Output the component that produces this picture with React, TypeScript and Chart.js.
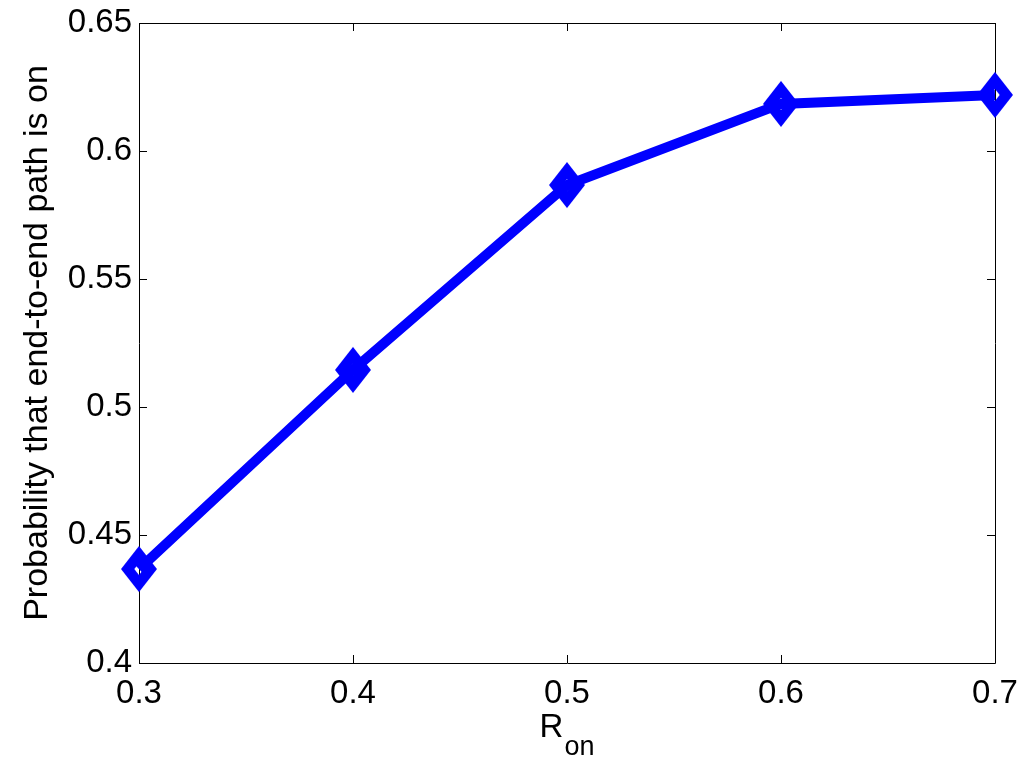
import React, { useEffect, useRef } from "react";
import { Chart, registerables } from "chart.js";

Chart.register(...registerables);

const xValues = [0.3, 0.4, 0.5, 0.6, 0.7];
const probOn = [0.4367, 0.5145, 0.5867, 0.6184, 0.6219];
const xTicks = [0.3, 0.4, 0.5, 0.6, 0.7];
const xTickLabels = ["0.3", "0.4", "0.5", "0.6", "0.7"];
const yTicks = [0.4, 0.45, 0.5, 0.55, 0.6, 0.65];
const yTickLabels = ["0.4", "0.45", "0.5", "0.55", "0.6", "0.65"];
const yTitle = "Probability that end-to-end path is on";
const xTitleMain = "R";
const xTitleSub = "on";

const FONT = "'Liberation Sans', Arial, Helvetica, sans-serif";

function makeDiamond(): HTMLCanvasElement {
  const c = document.createElement("canvas");
  const hw = 18, hh = 23;
  c.width = hw * 2 + 2;
  c.height = hh * 2 + 2;
  const ctx = c.getContext("2d")!;
  const cx = c.width / 2, cy = c.height / 2;
  ctx.fillStyle = "#0000ff";
  ctx.beginPath();
  ctx.moveTo(cx, cy - hh);
  ctx.lineTo(cx + hw, cy);
  ctx.lineTo(cx, cy + hh);
  ctx.lineTo(cx - hw, cy);
  ctx.closePath();
  ctx.fill();
  ctx.globalCompositeOperation = "destination-out";
  const k = 0.26;
  ctx.beginPath();
  ctx.moveTo(cx, cy - hh * k);
  ctx.lineTo(cx + hw * k, cy);
  ctx.lineTo(cx, cy + hh * k);
  ctx.lineTo(cx - hw * k, cy);
  ctx.closePath();
  ctx.fill();
  return c;
}

const framePlugin = {
  id: "matlabFrame",
  beforeDatasetsDraw(chart: any) {
    const { ctx, chartArea } = chart;
    const { left, right, top, bottom } = chartArea;
    const xs = chart.scales.x;
    const ys = chart.scales.y;
    ctx.save();
    ctx.strokeStyle = "#000";
    ctx.lineWidth = 1;
    ctx.beginPath();
    ctx.rect(left + 0.5, top + 0.5, right - left, bottom - top);
    ctx.stroke();
    const tl = 8;
    ctx.beginPath();
    xTicks.forEach((v) => {
      const px = Math.round(xs.getPixelForValue(v)) + 0.5;
      ctx.moveTo(px, bottom);
      ctx.lineTo(px, bottom - tl);
      ctx.moveTo(px, top);
      ctx.lineTo(px, top + tl);
    });
    yTicks.forEach((v) => {
      const py = Math.round(ys.getPixelForValue(v)) + 0.5;
      ctx.moveTo(left, py);
      ctx.lineTo(left + tl, py);
      ctx.moveTo(right, py);
      ctx.lineTo(right - tl, py);
    });
    ctx.stroke();
    ctx.restore();
  },
  afterDraw(chart: any) {
    const { ctx, chartArea } = chart;
    ctx.save();
    ctx.fillStyle = "#000";
    ctx.font = `34px ${FONT}`;
    ctx.textAlign = "center";
    ctx.textBaseline = "alphabetic";
    ctx.translate(47, (chartArea.top + chartArea.bottom) / 2);
    ctx.rotate(-Math.PI / 2);
    ctx.fillText(yTitle, 0, 0);
    ctx.restore();
    ctx.save();
    ctx.fillStyle = "#000";
    ctx.textBaseline = "alphabetic";
    ctx.textAlign = "left";
    ctx.font = `33px ${FONT}`;
    const wMain = ctx.measureText(xTitleMain).width;
    ctx.font = `27px ${FONT}`;
    const wSub = ctx.measureText(xTitleSub).width;
    const cx = (chartArea.left + chartArea.right) / 2;
    const x0 = cx - (wMain + 1 + wSub) / 2;
    ctx.font = `33px ${FONT}`;
    ctx.fillText(xTitleMain, x0, 737);
    ctx.font = `27px ${FONT}`;
    ctx.fillText(xTitleSub, x0 + wMain + 1, 755);
    ctx.restore();
  },
};

export default function App() {
  const ref = useRef<HTMLCanvasElement>(null);
  useEffect(() => {
    const canvas = ref.current!;
    const diamond = makeDiamond();
    const chart = new Chart(canvas, {
      type: "line",
      data: {
        datasets: [
          {
            data: xValues.map((x, i) => ({ x, y: probOn[i] })),
            borderColor: "#0000ff",
            borderWidth: 10,
            pointStyle: diamond as any,
            pointRadius: 18,
            pointHoverRadius: 18,
            pointBorderWidth: 0,
            tension: 0,
            fill: false,
            clip: false as any,
          },
        ],
      },
      options: {
        animation: false,
        responsive: false,
        events: [],
        layout: { autoPadding: false, padding: { left: 0, top: 23, right: 29, bottom: 0 } },
        plugins: {
          legend: { display: false },
          tooltip: { enabled: false },
          title: { display: false },
        },
        scales: {
          x: {
            type: "linear",
            min: 0.3,
            max: 0.7,
            afterBuildTicks: (s: any) => {
              s.ticks = xTicks.map((v) => ({ value: v }));
            },
            afterFit: (s: any) => {
              s.height = 106;
              s.paddingLeft = 0;
              s.paddingRight = 0;
            },
            grid: { display: false, drawTicks: false },
            border: { display: false },
            ticks: {
              padding: 11,
              color: "#000",
              font: { family: FONT, size: 33 },
              maxRotation: 0,
              autoSkip: false,
              callback: (v: any) => {
                const i = xTicks.findIndex((t) => Math.abs(t - v) < 1e-9);
                return i >= 0 ? xTickLabels[i] : "";
              },
            },
          },
          y: {
            type: "linear",
            min: 0.4,
            max: 0.65,
            afterBuildTicks: (s: any) => {
              s.ticks = yTicks.map((v) => ({ value: v }));
            },
            afterFit: (s: any) => {
              s.width = 139;
              s.paddingTop = 0;
              s.paddingBottom = 0;
            },
            grid: { display: false, drawTicks: false },
            border: { display: false },
            ticks: {
              padding: 7,
              color: "#000",
              font: { family: FONT, size: 33, lineHeight: 1 },
              autoSkip: false,
              callback: (v: any) => {
                const i = yTicks.findIndex((t) => Math.abs(t - v) < 1e-9);
                return i >= 0 ? yTickLabels[i] : "";
              },
            },
          },
        },
      },
      plugins: [framePlugin],
    });
    return () => chart.destroy();
  }, []);
  return (
    <div style={{ position: "fixed", left: 0, top: 0, width: 1024, height: 769, background: "#fff" }}>
      <canvas ref={ref} width={1024} height={769} />
    </div>
  );
}
